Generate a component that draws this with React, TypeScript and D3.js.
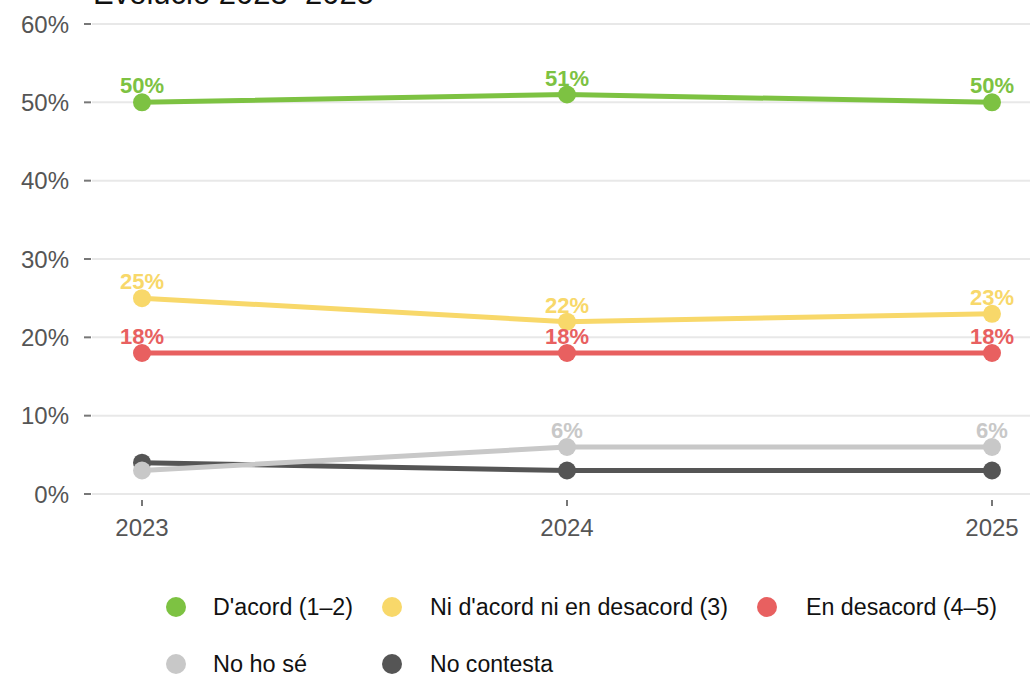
import React from "react";
import * as d3 from "d3";

const years = ["2023", "2024", "2025"];
const seriesNames = ["D'acord (1–2)", "Ni d'acord ni en desacord (3)", "En desacord (4–5)", "No ho sé", "No contesta"];
const seriesColors = ["#7dc242", "#f8d86a", "#e86060", "#c8c8c8", "#555555"];
const dAcord = [50, 51, 50];
const niNi = [25, 22, 23];
const enDesacord = [18, 18, 18];
const noHoSe = [3, 6, 6];
const noContesta = [4, 3, 3];
const yTicks = [0, 10, 20, 30, 40, 50, 60];
const title = "Evolució 2023–2025";

const seriesValues = [dAcord, niNi, enDesacord, noHoSe, noContesta];

const W = 1030, H = 678;
const FONT = "'Liberation Sans', Arial, sans-serif";

export default function App() {
  const x = d3.scalePoint<string>().domain(years).range([142, 992]);
  const y = d3.scaleLinear().domain([0, 60]).range([494, 24]);
  const line = d3.line<number>().x((_, i) => x(years[i])!).y((v) => y(v));
  const drawOrder = [0, 1, 2, 4, 3];
  const legendRows = [
    [{ i: 0, cx: 176, tx: 213, tl: 140 }, { i: 1, cx: 392, tx: 430, tl: 298 }, { i: 2, cx: 767, tx: 806, tl: 191 }],
    [{ i: 3, cx: 176, tx: 213, tl: 94 }, { i: 4, cx: 392, tx: 430, tl: 123 }],
  ];
  const rowY = [607, 664];
  return (
    <svg width={W} height={H} style={{ position: "absolute", left: 0, top: 0, background: "#fff" }} fontFamily={FONT}>
      <text x={93} y={4} fontSize={31} fill="#111">{title}</text>
      {yTicks.map((t) => (
        <g key={t}>
          <line x1={92} x2={W} y1={y(t)} y2={y(t)} stroke="#e8e8e8" strokeWidth={2} />
          <line x1={84} x2={91} y1={y(t)} y2={y(t)} stroke="#777" strokeWidth={2} />
          <text x={69} y={y(t)} dy="0.36em" textAnchor="end" fontSize={24} fill="#555">{t}%</text>
        </g>
      ))}
      {years.map((yr) => (
        <g key={yr}>
          <line x1={x(yr)} x2={x(yr)} y1={500} y2={506} stroke="#777" strokeWidth={2} />
          <text x={x(yr)} y={536} textAnchor="middle" fontSize={24} fill="#555">{yr}</text>
        </g>
      ))}
      {drawOrder.map((si) => (
        <g key={si}>
          <path d={line(seriesValues[si])!} fill="none" stroke={seriesColors[si]} strokeWidth={5} />
          {seriesValues[si].map((v, i) => (
            <text key={"l" + i} x={x(years[i])} y={y(v) - 9} textAnchor="middle" fontSize={22} fontWeight="bold" fill={seriesColors[si]} style={{ display: v >= 5 ? undefined : "none" }}>{v}%</text>
          ))}
          {seriesValues[si].map((v, i) => (
            <circle key={"c" + i} cx={x(years[i])} cy={y(v)} r={9} fill={seriesColors[si]} />
          ))}
        </g>
      ))}
      {legendRows.map((row, ri) =>
        row.map((it) => (
          <g key={ri + "-" + it.i}>
            <circle cx={it.cx} cy={rowY[ri]} r={10} fill={seriesColors[it.i]} />
            <text x={it.tx} y={rowY[ri]} dy="0.36em" fontSize={23} fill="#111" textLength={it.tl} lengthAdjust="spacingAndGlyphs">{seriesNames[it.i]}</text>
          </g>
        ))
      )}
    </svg>
  );
}
